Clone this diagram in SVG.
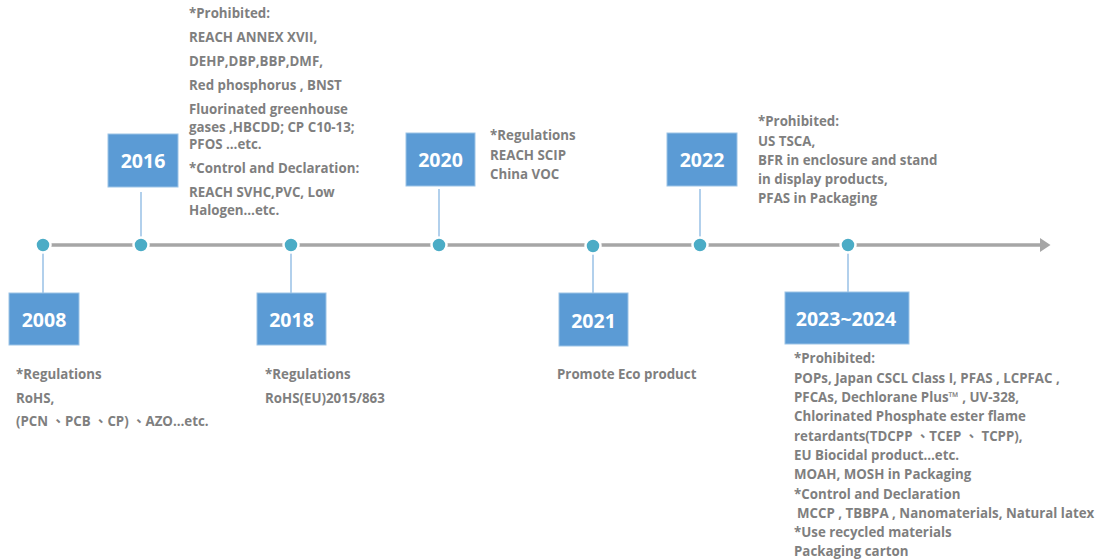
<svg xmlns="http://www.w3.org/2000/svg" width="1102" height="559" viewBox="0 0 1102 559">
<defs>
<style>
.t{font-family:"Open Sans","Liberation Sans","Noto Sans CJK TC",sans-serif;font-weight:bold;font-size:13.3px;fill:#7f7f7f}
.yr{font-family:"Open Sans","Liberation Sans",sans-serif;font-weight:bold;font-size:19.5px;fill:#ffffff;text-anchor:middle}
.box{fill:#5b9bd5;stroke:#9cc3e6;stroke-width:1}
.dot{fill:#4bacc6;stroke:#ffffff;stroke-width:2.5}
.con{stroke:#7fb1e0;stroke-width:1.2;fill:none}
.axis{stroke:#a6a6a6;stroke-width:3.5;fill:none}
</style>
<marker id="arr" markerWidth="4" markerHeight="4" refX="0" refY="2" orient="auto" markerUnits="strokeWidth">
<path d="M0,0 L3,2 L0,4 Z" fill="#a6a6a6"/>
</marker>
</defs>
<rect width="1102" height="559" fill="#ffffff"/>
<g id="connectors">
<line class="axis" x1="43" y1="245" x2="1040" y2="245" marker-end="url(#arr)"/>
<line class="con" x1="43" y1="252" x2="43" y2="293"/>
<line class="con" x1="141" y1="192" x2="141" y2="238"/>
<line class="con" x1="291" y1="252" x2="291" y2="293"/>
<line class="con" x1="439" y1="189" x2="439" y2="238"/>
<line class="con" x1="593" y1="252" x2="593" y2="293"/>
<line class="con" x1="700" y1="189" x2="700" y2="238"/>
<line class="con" x1="848" y1="252" x2="848" y2="292"/>
<circle class="dot" cx="43" cy="245" r="7.5"/>
<circle class="dot" cx="141" cy="245" r="7.5"/>
<circle class="dot" cx="291" cy="245" r="7.5"/>
<circle class="dot" cx="439" cy="245" r="7.5"/>
<circle class="dot" cx="593" cy="246" r="7.5"/>
<circle class="dot" cx="700" cy="245" r="7.5"/>
<circle class="dot" cx="848" cy="245" r="7.5"/>
</g>
<g id="n2008">
<rect class="box" x="9" y="293" width="70" height="52"/>
<text class="yr" x="44" y="327">2008</text>
<text class="t" x="16" y="379">*Regulations</text>
<text class="t" x="16" y="403">RoHS,</text>
<text class="t" x="16" y="426">(PCN 、PCB 、CP) 、AZO…etc.</text>
</g>
<g id="n2016">
<rect class="box" x="108" y="134" width="70" height="53"/>
<text class="yr" x="143" y="168">2016</text>
<text class="t" x="189" y="18">*Prohibited:</text>
<text class="t" x="189" y="42">REACH ANNEX XVII,</text>
<text class="t" x="189" y="66">DEHP,DBP,BBP,DMF,</text>
<text class="t" x="189" y="90">Red phosphorus , BNST</text>
<text class="t" x="189" y="114">Fluorinated greenhouse</text>
<text class="t" x="189" y="132">gases ,HBCDD; CP C10-13;</text>
<text class="t" x="189" y="149">PFOS …etc.</text>
<text class="t" x="189" y="173">*Control and Declaration:</text>
<text class="t" x="189" y="197">REACH SVHC,PVC, Low</text>
<text class="t" x="189" y="215">Halogen…etc.</text>
</g>
<g id="n2018">
<rect class="box" x="257" y="293" width="69" height="52"/>
<text class="yr" x="291.5" y="327">2018</text>
<text class="t" x="265" y="379">*Regulations</text>
<text class="t" x="265" y="403">RoHS(EU)2015/863</text>
</g>
<g id="n2020">
<rect class="box" x="406" y="133" width="69" height="53"/>
<text class="yr" x="440.5" y="167">2020</text>
<text class="t" x="490" y="140">*Regulations</text>
<text class="t" x="490" y="160">REACH SCIP</text>
<text class="t" x="490" y="179">China VOC</text>
</g>
<g id="n2021">
<rect class="box" x="559" y="293" width="69" height="53"/>
<text class="yr" x="593.5" y="328">2021</text>
<text class="t" x="557" y="379">Promote Eco product</text>
</g>
<g id="n2022">
<rect class="box" x="667" y="133" width="70" height="53"/>
<text class="yr" x="702" y="167">2022</text>
<text class="t" x="758" y="126">*Prohibited:</text>
<text class="t" x="758" y="146">US TSCA,</text>
<text class="t" x="758" y="165">BFR in enclosure and stand</text>
<text class="t" x="758" y="184">in display products,</text>
<text class="t" x="758" y="203">PFAS in Packaging</text>
</g>
<g id="n2023">
<rect class="box" x="785" y="292" width="124" height="52"/>
<text class="yr" x="846" y="326">2023~2024</text>
<text class="t" x="794" y="363">*Prohibited:</text>
<text class="t" x="794" y="383">POPs, Japan CSCL Class I, PFAS , LCPFAC ,</text>
<text class="t" x="794" y="402">PFCAs, Dechlorane Plus™ , UV-328,</text>
<text class="t" x="794" y="421">Chlorinated Phosphate ester flame</text>
<text class="t" x="794" y="441">retardants(TDCPP 、TCEP 、 TCPP),</text>
<text class="t" x="794" y="460">EU Biocidal product…etc.</text>
<text class="t" x="794" y="479">MOAH, MOSH in Packaging</text>
<text class="t" x="794" y="499">*Control and Declaration</text>
<text class="t" x="797" y="518">MCCP , TBBPA , Nanomaterials, Natural latex</text>
<text class="t" x="794" y="537">*Use recycled materials</text>
<text class="t" x="794" y="556">Packaging carton</text>
</g>
</svg>
